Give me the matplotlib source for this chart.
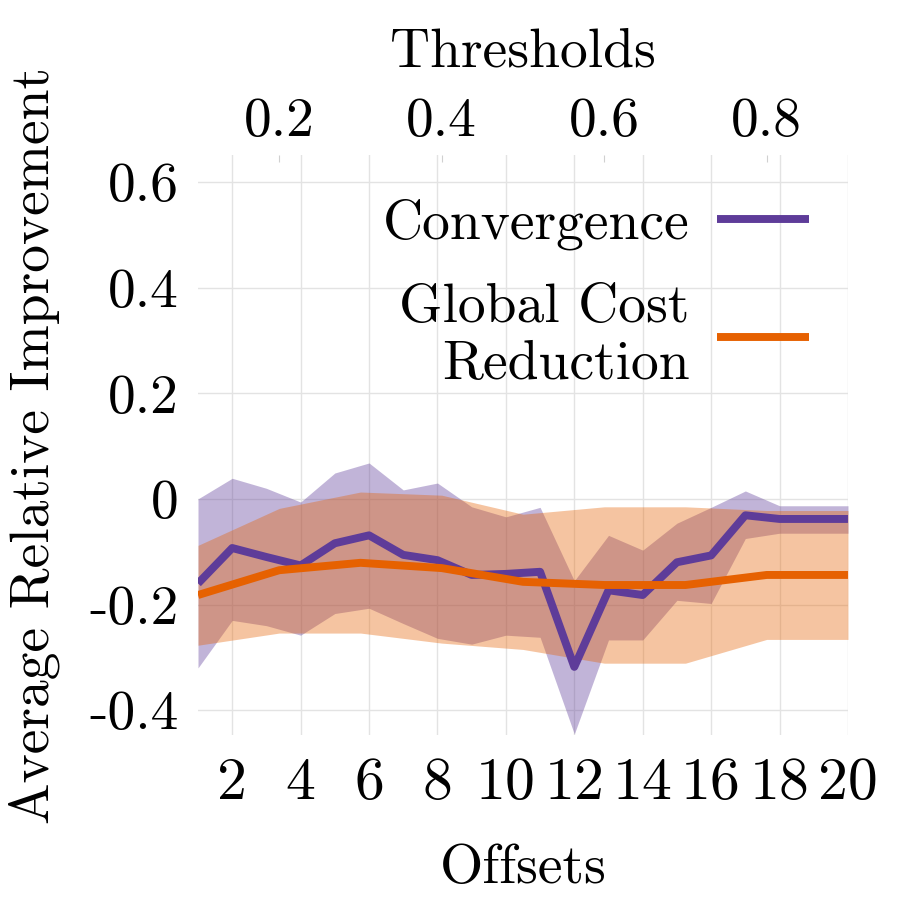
import matplotlib
matplotlib.use("Agg")
import matplotlib.pyplot as plt
import numpy as np

plt.rcParams['font.family'] = 'serif'
plt.rcParams['font.serif'] = ['cmr10', 'DejaVu Serif']
plt.rcParams['mathtext.fontset'] = 'cm'
plt.rcParams['axes.formatter.use_mathtext'] = True

# Data
offsets = list(range(1, 21))
conv_mean = [-0.160, -0.093, -0.110, -0.126, -0.084, -0.069, -0.106, -0.116, -0.144, -0.142,
             -0.138, -0.318, -0.173, -0.182, -0.120, -0.107, -0.031, -0.038, -0.038, -0.038]
conv_upper = [0.000, 0.039, 0.020, -0.006, 0.049, 0.068, 0.017, 0.030, -0.015, -0.034,
              -0.016, -0.155, -0.069, -0.097, -0.046, -0.016, 0.015, -0.013, -0.013, -0.013]
conv_lower = [-0.320, -0.230, -0.240, -0.258, -0.217, -0.207, -0.236, -0.264, -0.275, -0.258,
              -0.262, -0.445, -0.267, -0.267, -0.192, -0.198, -0.075, -0.065, -0.065, -0.065]

thresholds = [0.1, 0.2, 0.3, 0.4, 0.5, 0.6, 0.7, 0.8, 0.9]
cost_mean = [-0.182, -0.135, -0.121, -0.131, -0.157, -0.163, -0.163, -0.144, -0.144]
cost_upper = [-0.088, -0.018, 0.013, 0.007, -0.029, -0.015, -0.015, -0.022, -0.022]
cost_lower = [-0.277, -0.254, -0.254, -0.273, -0.285, -0.311, -0.311, -0.266, -0.266]

y_ticks = [-0.4, -0.2, 0.0, 0.2, 0.4, 0.6]
y_ticklabels = ['-0.4', '-0.2', '0', '0.2', '0.4', '0.6']
x_ticks = [2, 4, 6, 8, 10, 12, 14, 16, 18, 20]
top_ticks = [0.2, 0.4, 0.6, 0.8]

purple = '#5e3c99'
orange = '#e66101'
grid_c = '#e3e3e3'
FS = 40

fig = plt.figure(figsize=(9, 9), dpi=100)
ax = fig.add_axes([0.22, 0.1833, 0.7222, 0.6445])
ax2 = ax.twiny()

ax.set_xlim(1, 20)
ax.set_ylim(-0.447, 0.651)
ax2.set_xlim(0.1, 0.9)

ax.fill_between(offsets, conv_lower, conv_upper, color=purple, alpha=0.38, linewidth=0, zorder=2)
ax2.fill_between(thresholds, cost_lower, cost_upper, color=orange, alpha=0.37, linewidth=0, zorder=2)
l1, = ax2.plot(offsets, conv_mean, color=purple, lw=5.7, transform=ax.transData, zorder=3,
               solid_capstyle='butt', label='Convergence')
l2, = ax2.plot(thresholds, cost_mean, color=orange, lw=5.7, zorder=4, solid_capstyle='butt',
               label='Global Cost\nReduction')

for a in (ax, ax2):
    for s in a.spines.values():
        s.set_visible(False)

ax.set_yticks(y_ticks)
ax.set_yticklabels(y_ticklabels)
ax.set_xticks(x_ticks)
ax.set_xticklabels([str(v) for v in x_ticks])
ax2.set_xticks(top_ticks)
ax2.set_xticklabels([f'{v:.1f}' for v in top_ticks])

ax.grid(True, color=grid_c, lw=1.0)
ax.set_axisbelow(True)
ax.tick_params(axis='both', labelsize=FS, length=0, colors=grid_c, labelcolor='black')
ax.tick_params(axis='x', labelsize=43, pad=16)
ax.tick_params(axis='y', pad=14)
ax2.tick_params(axis='x', labelsize=FS, direction='in', length=5, color='#d0d0d0', pad=6)

ax.set_xlabel('Offsets', fontsize=FS, labelpad=24)
ax2.set_xlabel('Thresholds', fontsize=FS, labelpad=22)
ax.set_ylabel('Average Relative Improvement', fontsize=FS)
ax.yaxis.set_label_coords(-0.213, 0.5)

leg = ax2.legend(handles=[l1, l2], loc='upper right', bbox_to_anchor=(0.94, 0.925),
                 frameon=False, markerfirst=False, fontsize=FS, handlelength=1.65,
                 handletextpad=0.5, labelspacing=0.6, borderpad=0, borderaxespad=0)
for t in leg.get_texts():
    t.set_multialignment('right')

fig.savefig('out.png', dpi=100)
